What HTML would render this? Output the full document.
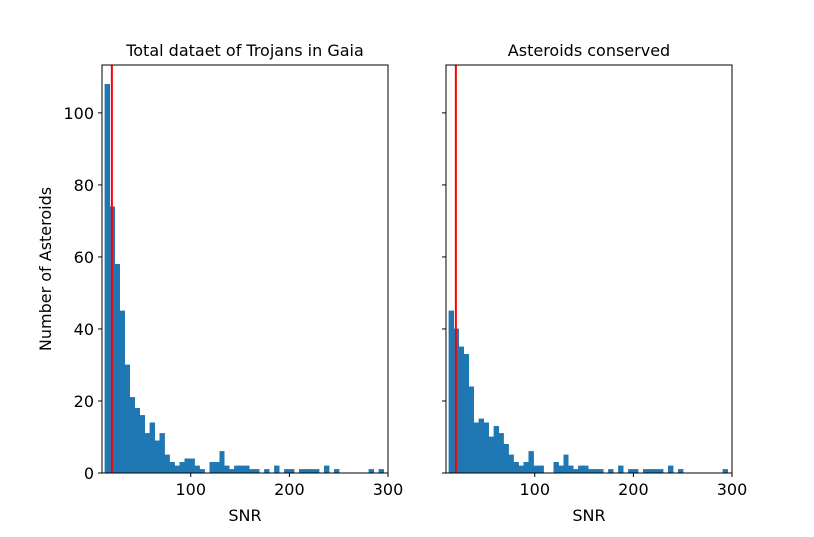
<!DOCTYPE html>
<html><head><meta charset="utf-8"><style>
body{margin:0;background:#fff;}
svg text{font-family:"DejaVu Sans","Liberation Sans",sans-serif;fill:#000;}
</style></head><body>
<svg id="chart" width="814" height="532" xmlns="http://www.w3.org/2000/svg"></svg>
<script>
const binStart = 13;
const binWidth = 5.05;
const leftCounts = [108,74,58,45,30,21,18,16,11,14,9,11,5,3,2,3,4,4,2,1,0,3,3,6,2,1,2,2,2,1,1,0,1,0,2,0,1,1,0,1,1,1,1,0,2,0,1,0,0,0,0,0,0,1,0,1];
const rightCounts = [45,40,35,33,24,14,15,14,10,13,11,8,5,3,2,3,6,2,2,0,0,3,2,5,2,1,2,2,1,1,1,0,1,0,2,0,1,1,0,1,1,1,1,0,2,0,1,0,0,0,0,0,0,0,0,1];
const threshold = 20;
const xTicks = [100,200,300];
const yTicks = [0,20,40,60,80,100];
const titles = ["Total dataet of Trojans in Gaia","Asteroids conserved"];

const NS="http://www.w3.org/2000/svg";
const svgEl=document.getElementById('chart');
const xMin=10,xMax=300,yMax=113.3;
const axTop=65,axBottom=473;
function mk(tag,attrs,parent){const e=document.createElementNS(NS,tag);for(const k in attrs)e.setAttribute(k,attrs[k]);(parent||svgEl).appendChild(e);return e;}
function drawPanel(left,counts,title,showY,idx){
  const right=left+286;
  const g=mk('g',{});
  
  
  const xs=v=>left+(v-xMin)/(xMax-xMin)*(right-left);
  const ys=v=>axBottom-v/yMax*(axBottom-axTop);
  counts.forEach((c,i)=>{
    if(c<=0)return;
    const x0=xs(binStart+i*binWidth),x1=xs(binStart+(i+1)*binWidth);
    const r=mk('rect',{x:x0,y:ys(c),width:x1-x0,height:ys(0)-ys(c),fill:'#1f77b4',stroke:'#1f77b4','stroke-width':0.4,'shape-rendering':'crispEdges'},g);
    
    
  });
  const ln=mk('line',{x1:xs(threshold),x2:xs(threshold),y1:axTop,y2:axBottom,stroke:'#ff0000','stroke-width':2},g);
  
  
  const fr=mk('rect',{x:left,y:axTop,width:right-left,height:axBottom-axTop,fill:'none',stroke:'#000','stroke-width':1},g);
  
  
  xTicks.forEach(t=>{
    const x=xs(t);
    mk('line',{x1:x,x2:x,y1:axBottom,y2:axBottom+4,stroke:'#000'},g);
    const tx=mk('text',{x:x,y:axBottom+22,'text-anchor':'middle','font-size':16},g);
    tx.textContent=t;
    
    
  });
  yTicks.forEach(t=>{
    const y=ys(t);
    mk('line',{x1:left-4,x2:left,y1:y,y2:y,stroke:'#000'},g);
    if(showY){
      const tx=mk('text',{x:left-8,y:y+6,'text-anchor':'end','font-size':16},g);
      tx.textContent=t;
      
      
    }
  });
  const tt=mk('text',{x:(left+right)/2,y:56,'text-anchor':'middle','font-size':16},g);
  tt.textContent=title;
  
  
  const xl=mk('text',{x:(left+right)/2,y:521,'text-anchor':'middle','font-size':16},g);
  xl.textContent='SNR';
  
  
}
drawPanel(102,leftCounts,titles[0],true,0);
drawPanel(446,rightCounts,titles[1],false,1);
const yl=mk('text',{x:0,y:0,'text-anchor':'middle','font-size':16,transform:'translate(51,269) rotate(-90)'});
yl.textContent='Number of Asteroids';


</script>
</body></html>
